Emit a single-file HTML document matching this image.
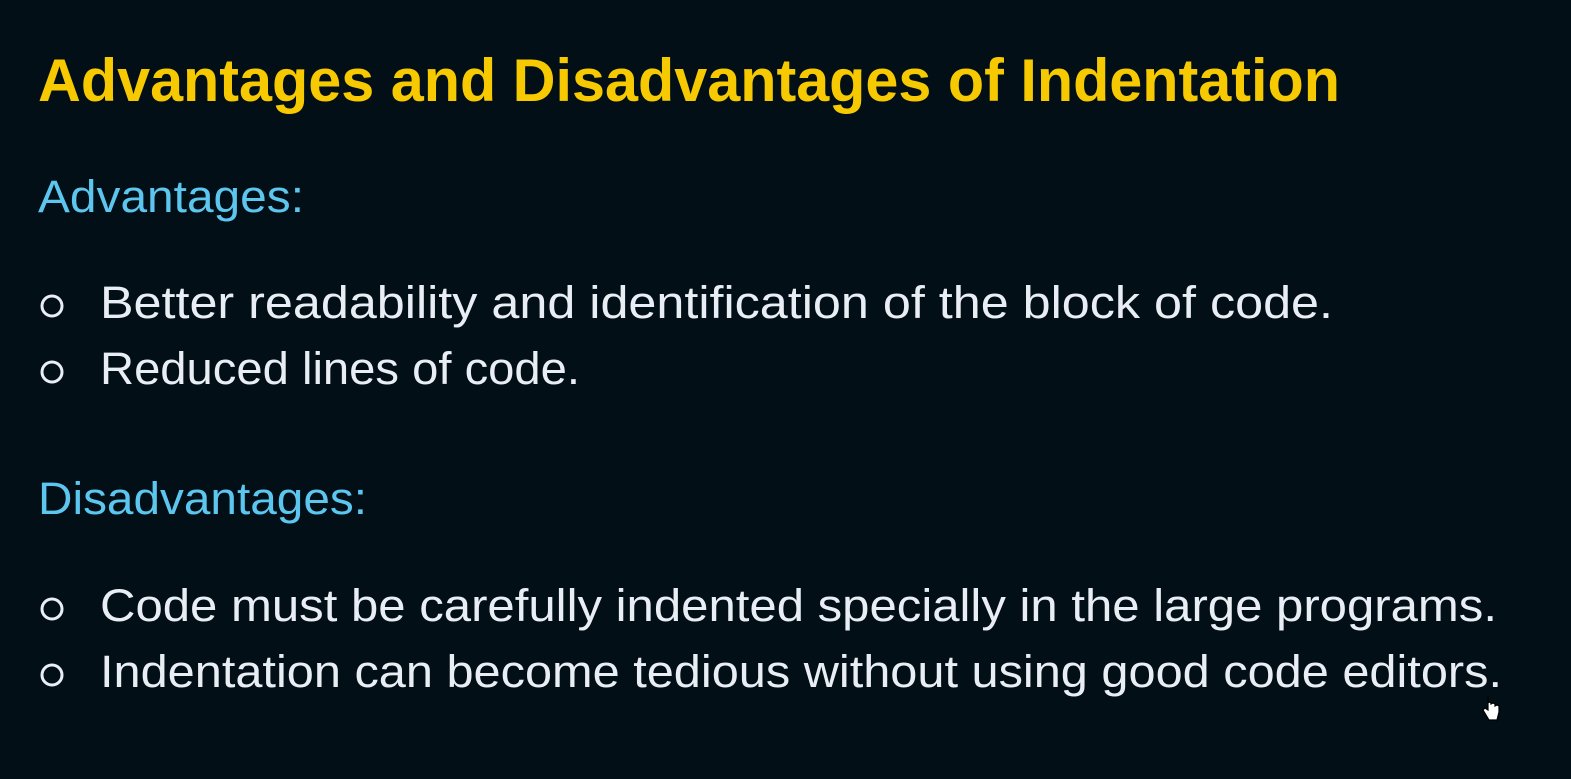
<!DOCTYPE html>
<html><head><meta charset="utf-8"><style>
html,body{margin:0;padding:0;background:#020f17;}
svg{display:block}
</style></head><body>
<svg width="1571" height="779" viewBox="0 0 1571 779" xmlns="http://www.w3.org/2000/svg">
<rect width="1571" height="779" fill="#020f17"/>
<text x="38" y="101" font-family="Liberation Sans, sans-serif" font-weight="bold" font-size="60" fill="#f7c900" textLength="1302" lengthAdjust="spacingAndGlyphs">Advantages and Disadvantages of Indentation</text>
<text x="38" y="212" font-family="Liberation Sans, sans-serif" font-size="45" fill="#5cc6ef" textLength="266" lengthAdjust="spacingAndGlyphs">Advantages:</text>
<g font-family="Liberation Sans, sans-serif" font-size="45" fill="#e9eef4">
<circle cx="52" cy="306" r="10" fill="none" stroke="#e9eef4" stroke-width="3"/>
<text x="100" y="318" textLength="1233" lengthAdjust="spacingAndGlyphs">Better readability and identification of the block of code.</text>
<circle cx="52" cy="372" r="10" fill="none" stroke="#e9eef4" stroke-width="3"/>
<text x="100" y="384" textLength="480" lengthAdjust="spacingAndGlyphs">Reduced lines of code.</text>
</g>
<text x="38" y="514" font-family="Liberation Sans, sans-serif" font-size="45" fill="#5cc6ef" textLength="329" lengthAdjust="spacingAndGlyphs">Disadvantages:</text>
<g font-family="Liberation Sans, sans-serif" font-size="45" fill="#e9eef4">
<circle cx="52" cy="609" r="10" fill="none" stroke="#e9eef4" stroke-width="3"/>
<text x="100" y="621" textLength="1397" lengthAdjust="spacingAndGlyphs">Code must be carefully indented specially in the large programs.</text>
<circle cx="52" cy="675" r="10" fill="none" stroke="#e9eef4" stroke-width="3"/>
<text x="100" y="687" textLength="1402" lengthAdjust="spacingAndGlyphs">Indentation can become tedious without using good code editors.</text>
</g>
<path d="M1488 696 v14 l-3 -2 l-2 2 l6 10 h8 l2 -8 v-6 l-2 -1 l-2 1 v-2 l-2 -1 l-2 1 v-1 l-2 -1 l-1 1 v-7 z" fill="#fff" stroke="#000" stroke-width="1.2"/>
</svg>
</body></html>
